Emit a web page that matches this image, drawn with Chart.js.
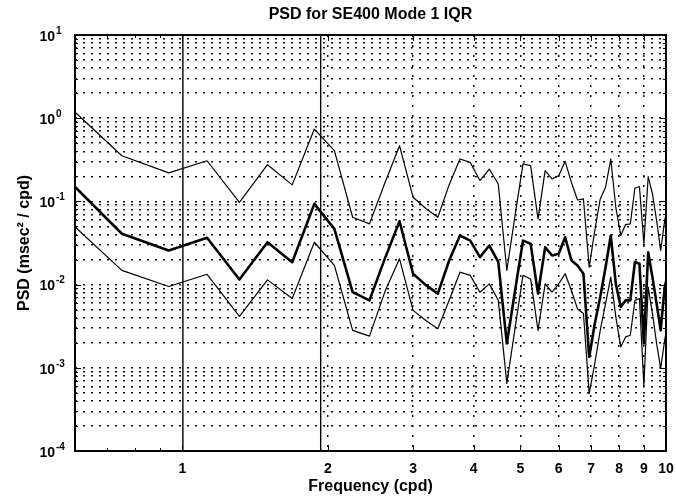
<!DOCTYPE html>
<html>
<head>
<meta charset="utf-8">
<title>PSD for SE400 Mode 1 IQR</title>
<script src="https://cdn.jsdelivr.net/npm/chart.js@4/dist/chart.umd.min.js"></script>
<style>
    html, body { margin: 0; padding: 0; background: #fff; }
    canvas { display: block; }
</style>
</head>
<body>
<canvas id="psdChart" width="676" height="500"></canvas>
<script>
'use strict';

// frequency bins (cpd)
const freqs = [0.5625, 0.75, 0.9375, 1.125, 1.3125, 1.5, 1.6875, 1.875, 2.0625, 2.25,
    2.4375, 2.625, 2.8125, 3.0, 3.1875, 3.375, 3.5625, 3.75, 3.9375, 4.125,
    4.3125, 4.5, 4.6875, 4.875, 5.0625, 5.25, 5.4375, 5.625, 5.8125, 6.0,
    6.1875, 6.375, 6.5625, 6.75, 6.9375, 7.125, 7.3125, 7.5, 7.6875, 7.875,
    8.0625, 8.25, 8.4375, 8.625, 8.8125, 9.0, 9.1875, 9.375, 9.5625, 9.75,
    9.9375, 10.125];

// upper quartile, median, lower quartile (msec^2 / cpd)
const psdUpper = [1.68, 0.354, 0.22, 0.308, 0.0975, 0.276, 0.158, 0.74, 0.407, 0.0645,
    0.0537, 0.169, 0.467, 0.112, 0.082, 0.0645, 0.159, 0.323, 0.294, 0.178,
    0.245, 0.162, 0.0148, 0.068, 0.282, 0.269, 0.0617, 0.234, 0.186, 0.204,
    0.303, 0.169, 0.104, 0.107, 0.0162, 0.0447, 0.107, 0.148, 0.323, 0.085,
    0.039, 0.0527, 0.0537, 0.145, 0.150, 0.031, 0.198, 0.123, 0.059, 0.0257,
    0.059, 0.1];

const psdMedian = [0.217, 0.0408, 0.0257, 0.0365, 0.0115, 0.0323, 0.0186, 0.0933, 0.0468, 0.00813,
    0.00646, 0.0208, 0.0577, 0.0135, 0.00986, 0.00778, 0.0195, 0.0389, 0.0338, 0.0214,
    0.0295, 0.0187, 0.00196, 0.0085, 0.0338, 0.031, 0.00778, 0.028, 0.0224, 0.0235,
    0.0371, 0.0195, 0.017, 0.0135, 0.00135, 0.0034, 0.0071, 0.0162, 0.0389, 0.0102,
    0.0054, 0.00646, 0.00646, 0.0187, 0.0178, 0.00196, 0.0245, 0.0123, 0.0059, 0.00282,
    0.0093, 0.015];

const psdLower = [0.070, 0.0148, 0.0095, 0.0133, 0.00416, 0.0114, 0.0068, 0.0323, 0.017, 0.00282,
    0.0024, 0.0083, 0.0204, 0.0049, 0.0037, 0.00295, 0.0065, 0.0141, 0.0129, 0.0081,
    0.0102, 0.0065, 0.00065, 0.003, 0.0129, 0.0117, 0.00282, 0.0102, 0.0081, 0.0102,
    0.0135, 0.0085, 0.0051, 0.0045, 0.00049, 0.00113, 0.00282, 0.0059, 0.0123, 0.0041,
    0.00178, 0.00235, 0.00246, 0.00646, 0.0068, 0.0006, 0.0093, 0.0045, 0.00196, 0.00098,
    0.00215, 0.004];

// tidal lines K1 and M2 (cpd)
const tideLines = [1.0027, 1.9323];

const chartTitle = 'PSD for SE400 Mode 1 IQR';
const xRange = [0.6, 10];
const yRange = [1e-4, 1e1];
const xMinorTicks = [0.7, 0.8, 0.9];
const xLabelTicks = [1, 2, 3, 4, 5, 6, 7, 8, 9, 10];
const yDecades = [-4, -3, -2, -1, 0, 1];

const FONT = "'Liberation Sans', Arial, Helvetica, sans-serif";
const GRID = '#111';

// y ticks: 1..9 x 10^n
var yTicks = [];
yDecades.forEach(function(e){
    for(var m = 1; m <= 9; m++)
    {
        if(e === 1 && m > 1) break;
        yTicks.push(m * Math.pow(10, e));
    }
});
var xTicks = [0.6].concat(xMinorTicks, xLabelTicks);

function serie(valores, largura)
{
    return {
        data: valores.map(function(v, i){ return {x: freqs[i], y: v}; }),
        borderColor: '#000',
        borderWidth: largura,
        borderJoinStyle: 'round',
        pointRadius: 0,
        fill: false,
        tension: 0
    };
}

function tideSerie(f)
{
    return {
        data: [{x: f, y: yRange[0]}, {x: f, y: yRange[1]}],
        borderColor: '#000',
        borderWidth: 1.4,
        pointRadius: 0,
        fill: false
    };
}

// MATLAB look: box, inside ticks, 10^n labels, title over the axes
const matlabAxes = {
    id: 'matlabAxes',
    afterDatasetsDraw(chart)
    {
        const ctx = chart.ctx;
        const a = chart.chartArea;
        const xs = chart.scales.x, ys = chart.scales.y;
        ctx.save();
        ctx.strokeStyle = '#000';
        ctx.lineWidth = 1;
        ctx.beginPath();
        xTicks.forEach(function(v){
            const px = Math.round(xs.getPixelForValue(v)) + 0.5;
            const len = xLabelTicks.includes(v) ? 6 : 3;
            ctx.moveTo(px, a.bottom); ctx.lineTo(px, a.bottom - len);
            ctx.moveTo(px, a.top); ctx.lineTo(px, a.top + len);
        });
        yTicks.forEach(function(v){
            const py = Math.round(ys.getPixelForValue(v)) + 0.5;
            const major = Math.abs(Math.log10(v) - Math.round(Math.log10(v))) < 1e-9;
            const len = major ? 6 : 3;
            ctx.moveTo(a.left, py); ctx.lineTo(a.left + len, py);
            ctx.moveTo(a.right, py); ctx.lineTo(a.right - len, py);
        });
        ctx.stroke();

        ctx.lineWidth = 2;
        ctx.strokeRect(a.left, a.top, a.right - a.left, a.bottom - a.top);

        ctx.fillStyle = '#000';
        ctx.textBaseline = 'middle';
        yDecades.forEach(function(e){
            const py = ys.getPixelForValue(Math.pow(10, e));
            ctx.font = 'bold 14px ' + FONT;
            ctx.textAlign = 'right';
            ctx.fillText('10', 55, py + 2);
            ctx.font = 'bold 10px ' + FONT;
            ctx.textAlign = 'left';
            ctx.fillText(String(e), 56, py - 4);
        });

        ctx.font = 'bold 16px ' + FONT;
        ctx.textAlign = 'center';
        ctx.fillText(chartTitle, (a.left + a.right) / 2, 15);
        ctx.restore();
    }
};

const ctx = document.getElementById('psdChart');

const psdChart = new Chart(ctx, {
    type: 'line',
    data: {
        datasets: [
            serie(psdUpper, 1.2),
            serie(psdMedian, 2.6),
            serie(psdLower, 1.2),
            tideSerie(tideLines[0]),
            tideSerie(tideLines[1])
        ]
    },
    plugins: [matlabAxes],
    options: {
        responsive: false,
        animation: false,
        devicePixelRatio: 1,
        layout: { padding: { left: 0, right: 10, top: 35, bottom: 0 } },
        plugins: {
            legend: { display: false },
            tooltip: { enabled: false },
            title: { display: false }
        },
        scales: {
            x: {
                type: 'logarithmic',
                min: xRange[0],
                max: xRange[1],
                afterBuildTicks: function(scale){
                    scale.ticks = xTicks.map(function(v){ return {value: v}; });
                },
                afterFit: function(scale){
                    scale.height = 49;
                    scale.paddingLeft = 0;   // the "10" label may hang past the box
                    scale.paddingRight = 0;
                },
                ticks: {
                    autoSkip: false,
                    maxRotation: 0,
                    padding: 10,
                    color: '#000',
                    font: { family: FONT, size: 14, weight: 'bold' },
                    callback: function(v){ return xLabelTicks.includes(v) ? String(v) : ''; }
                },
                grid: {
                    drawTicks: false,
                    lineWidth: 1.5,
                    color: function(c){
                        const v = c.tick ? c.tick.value : 0;
                        return (v >= 2 && v <= 9) ? GRID : 'rgba(0,0,0,0)';
                    }
                },
                border: { display: false, dash: [2, 8] },
                title: {
                    display: true,
                    text: 'Frequency (cpd)',
                    color: '#000',
                    font: { family: FONT, size: 16, weight: 'bold' },
                    padding: { top: 0, bottom: 4 }
                }
            },
            y: {
                type: 'logarithmic',
                min: yRange[0],
                max: yRange[1],
                afterBuildTicks: function(scale){
                    scale.ticks = yTicks.map(function(v){ return {value: v}; });
                },
                afterFit: function(scale){ scale.width = 75; },
                ticks: { display: false },
                grid: {
                    drawTicks: false,
                    lineWidth: 1.5,
                    color: function(c){
                        const v = c.tick ? c.tick.value : 0;
                        return (v > yRange[0] && v < yRange[1]) ? GRID : 'rgba(0,0,0,0)';
                    }
                },
                border: { display: false, dash: [2, 6] },
                title: {
                    display: true,
                    text: 'PSD (msec\u00b2 / cpd)',
                    color: '#000',
                    font: { family: FONT, size: 16, weight: 'bold' },
                    padding: { top: 15.4, bottom: 0 }
                }
            }
        }
    }
});
</script>
</body>
</html>
